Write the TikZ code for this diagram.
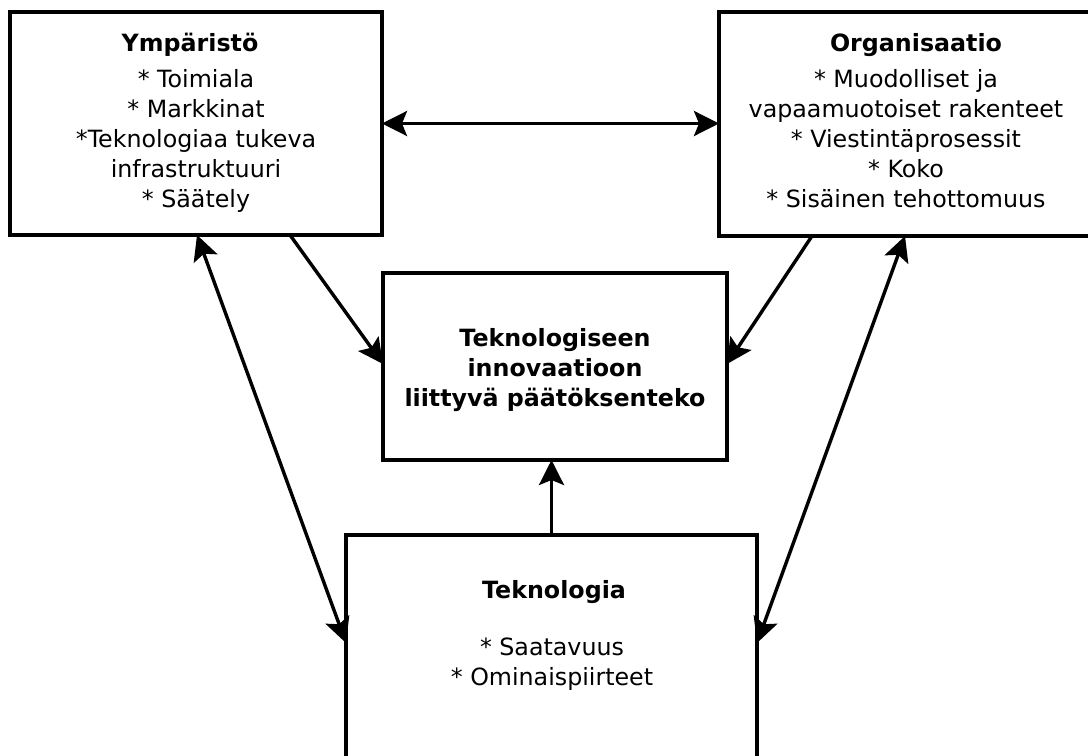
\documentclass[tikz,border=0pt]{standalone}
\usepackage{fontspec}
\setmainfont{DejaVu Sans}
\usetikzlibrary{arrows.meta,calc}
\begin{document}
\begin{tikzpicture}[x=1bp,y=-1bp,
  box/.style={draw=black, line width=3.4bp, fill=white, inner sep=0pt, outer sep=0pt},
  txt/.style={align=center, inner sep=0pt, font=\fontsize{23.75bp}{30bp}\selectfont},
  tip/.tip={Stealth[length=25bp,width=25bp,inset=5bp]},
  arr/.style={line width=3.4bp, -tip},
  darr/.style={line width=3.4bp, tip-tip}]
\clip (0,0) rectangle (1088,756);
\fill[white] (0,0) rectangle (1088,756);
% boxes
\node[box, minimum width=372bp, minimum height=223bp] (env) at (196,123.5) {};
\node[box, minimum width=376bp, minimum height=224bp] (org) at (907,124) {};
\node[box, minimum width=344bp, minimum height=187bp] (dec) at (555,366.5) {};
\node[box, minimum width=411bp, minimum height=245bp] (tek) at (551.5,657.5) {};
% texts
\node[txt] (envt) at (196,123) {\textbf{Ympäristö}\hspace*{12bp}\\[6bp]* Toimiala\\* Markkinat\\*Teknologiaa tukeva\hspace*{7bp}\\infrastruktuuri\\* Säätely};
\node[txt] (orgt) at (906,121) {\hspace*{20bp}\textbf{Organisaatio}\\[6bp]* Muodolliset ja\hspace*{7bp}\\vapaamuotoiset rakenteet\\* Viestintäprosessit\\* Koko\\* Sisäinen tehottomuus};
\node[txt] (dect) at (555,370.5) {\textbf{Teknologiseen}\\\textbf{innovaatioon}\\\textbf{liittyvä päätöksenteko}};
\node[txt] (tekt) at (552,635) {\hspace*{4bp}\textbf{Teknologia}\\[27bp]* Saatavuus\\* Ominaispiirteet};
% connectors
\draw[darr] (env.east) -- (env.east -| org.west);
\draw[arr] ($(env.south west)+(280,0)$) -- ($(dec.west)+(0,-2.5)$);
\draw[arr] ($(org.south west)+(93,0)$) -- ($(dec.east)+(0,-2.5)$);
\draw[darr] ($(env.south west)+(187,0)$) -- ($(tek.north west)+(0,108)$);
\draw[darr] ($(org.south west)+(186,0)$) -- ($(tek.north east)+(0,108)$);
\draw[arr] (tek.north) -- (tek.north |- dec.south);
\end{tikzpicture}
\end{document}
